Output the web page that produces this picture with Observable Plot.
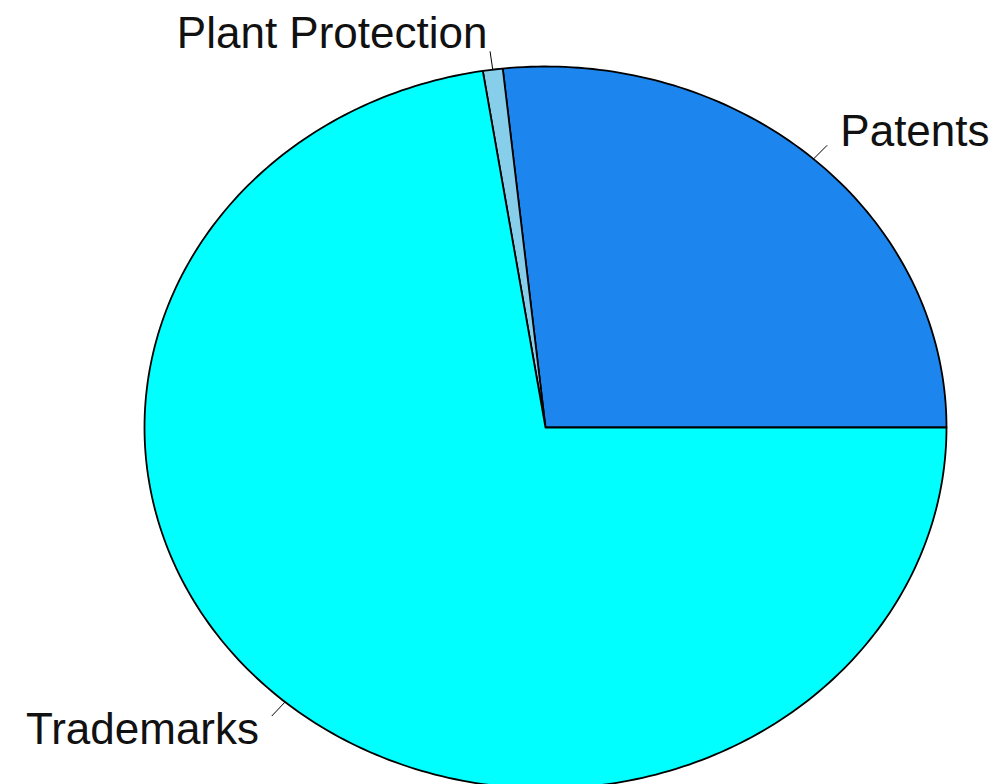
<!DOCTYPE html>
<html>
<head>
<meta charset="utf-8">
<script src="https://cdn.jsdelivr.net/npm/d3@7"></script>
<script src="https://cdn.jsdelivr.net/npm/@observablehq/plot@0.6"></script>
<style>
  html, body { margin: 0; padding: 0; background: #fff; }
</style>
</head>
<body>
<div id="chart"></div>
<script>
// Data
const categories = ["Patents", "Plant Protection", "Trademarks"];
const values = [26.7, 0.8, 72.5];
const colors = ["#1c86ee", "#87ceeb", "#00ffff"];

// Build slice outlines (R pie style: start at 3 o'clock, counter-clockwise)
const total = d3.sum(values);
const slices = [];
const ticks = [];
const labels = [];
let acc = 0;
categories.forEach((cat, i) => {
  const a0 = (acc / total) * 2 * Math.PI;
  acc += values[i];
  const a1 = (acc / total) * 2 * Math.PI;
  const n = Math.max(2, Math.ceil((a1 - a0) / (Math.PI / 180)));
  slices.push({cat, x: 0, y: 0, order: 0});
  for (let k = 0; k <= n; k++) {
    const a = a0 + (a1 - a0) * k / n;
    slices.push({cat, x: Math.cos(a), y: Math.sin(a), order: k + 1});
  }
  const am = (a0 + a1) / 2;
  ticks.push({cat, x: Math.cos(am), y: Math.sin(am)});
  ticks.push({cat, x: 1.05 * Math.cos(am), y: 1.05 * Math.sin(am)});
  labels.push({cat, x: 1.1 * Math.cos(am), y: 1.1 * Math.sin(am), anchor: Math.cos(am) > 0 ? "start" : "end"});
});

const chart = Plot.plot({
  width: 996,
  height: 784,
  margin: 0,
  x: {domain: [-1, 1], range: [144, 946], axis: null},
  y: {domain: [-1, 1], range: [788, 66], axis: null},
  color: {domain: categories, range: colors},
  style: {background: "#fff", overflow: "visible"},
  marks: [
    Plot.line(slices, {x: "x", y: "y", z: "cat", fill: "cat", stroke: "#000", strokeWidth: 1.8, curve: "linear-closed"}),
    Plot.line(ticks, {x: "x", y: "y", z: "cat", stroke: "#000", strokeWidth: 1}),
    Plot.text(labels.filter(d => d.anchor === "start"), {x: "x", y: "y", text: "cat", textAnchor: "start", fontSize: 44, fontFamily: "Liberation Sans, Arial, sans-serif", fill: "#111"}),
    Plot.text(labels.filter(d => d.anchor === "end"), {x: "x", y: "y", text: "cat", textAnchor: "end", fontSize: 44, fontFamily: "Liberation Sans, Arial, sans-serif", fill: "#111"})
  ]
});
document.getElementById("chart").appendChild(chart);
</script>
</body>
</html>
